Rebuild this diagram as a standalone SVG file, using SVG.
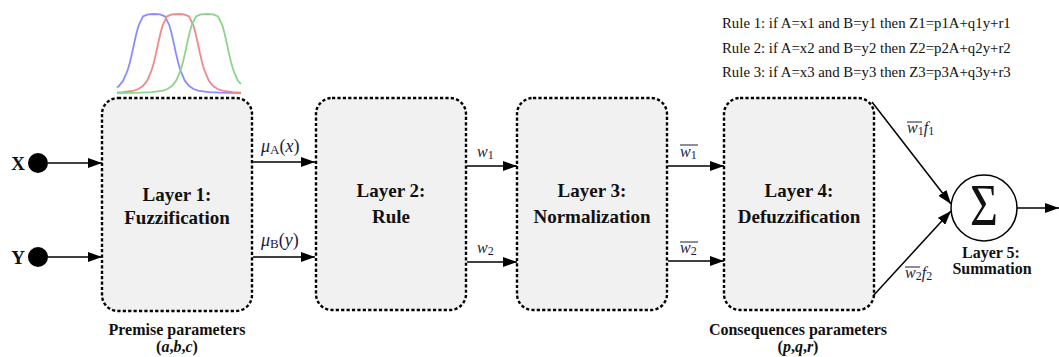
<svg xmlns="http://www.w3.org/2000/svg" width="1059" height="357" viewBox="0 0 1059 357">
  <style>
    .layer { fill: #f1f1f1; stroke: #000; stroke-width: 2.4; stroke-dasharray: 3.2 2.2; }
    .serif { font-family: Liberation Serif, Times New Roman, serif; }
    .title { font-weight: bold; font-size: 19px; text-anchor: middle; fill: #111; }
    .param { font-weight: bold; font-size: 16px; text-anchor: middle; fill: #111; }
    .rule { font-size: 14.8px; fill: #111; }
    .math { font-size: 16px; fill: #1a1a40; }
    .mu { font-size: 18px; fill: #1a1a40; }
    .it { font-style: italic; }
    .edge { stroke: #000; stroke-width: 1.5; fill: none; }
    .bar { stroke: #1a1a40; stroke-width: 1; }
    .mf { fill: none; stroke-width: 1.8; stroke-linejoin: round; }
  </style>
  <defs>
    <marker id="arrow" viewBox="0 0 14 10" refX="14" refY="5" markerWidth="14" markerHeight="10" markerUnits="userSpaceOnUse" orient="auto">
      <path d="M0,0 L14,5 L0,10 Z" fill="#000"/>
    </marker>
  </defs>

  <rect width="1059" height="357" fill="#fff"/>

  <!-- generalized bell membership functions -->
  <g id="membership">
    <polyline class="mf" stroke="#8c8cff" points="117,87.5 118.8,86.1 123.2,80.6 127.6,70.3 129.8,62.7 132,53.5 134.2,43.3 136.4,33.5 138.6,25.4 143,16.4 148,14.3 154,14 160,14.3 165,16.4 169.4,25.4 171.6,33.5 173.8,43.3 176,53.5 178.2,62.7 180.4,70.3 184.8,80.6 189.2,86.1 193.6,89 198,90.6 209,92.2 220,92.7 241,93"/>
    <polyline class="mf" stroke="#f08a8a" points="117,92.5 123,92.2 134,90.6 138.4,89 142.8,86.1 147.2,80.6 151.6,70.3 153.8,62.7 156,53.5 158.2,43.3 160.4,33.5 162.6,25.4 167,16.4 172,14.3 178,14 184,14.3 189,16.4 193.4,25.4 195.6,33.5 197.8,43.3 200,53.5 202.2,62.7 204.4,70.3 208.8,80.6 213.2,86.1 217.6,89 222,90.6 233,92.2 241,92.6"/>
    <polyline class="mf" stroke="#8ed48e" points="117,93 141,92.7 152,92.2 163,90.6 167.4,89 171.8,86.1 176.2,80.6 180.6,70.3 182.8,62.7 185,53.5 187.2,43.3 189.4,33.5 191.6,25.4 196,16.4 201,14.3 207,14 213,14.3 218,16.4 222.4,25.4 224.6,33.5 226.8,43.3 229,53.5 231.2,62.7 233.4,70.3 237.8,80.6 241,84"/>
  </g>

  <!-- fuzzy rule base -->
  <g id="rules" class="serif">
    <text class="rule" x="722" y="28">Rule 1: if A=x1 and B=y1 then Z1=p1A+q1y+r1</text>
    <text class="rule" x="722" y="53">Rule 2: if A=x2 and B=y2 then Z2=p2A+q2y+r2</text>
    <text class="rule" x="722" y="77">Rule 3: if A=x3 and B=y3 then Z3=p3A+q3y+r3</text>
  </g>

  <!-- inputs -->
  <g id="input-x" class="serif">
    <text class="title" x="18" y="170">X</text>
    <circle cx="38" cy="163" r="10" fill="#000"/>
  </g>
  <g id="input-y" class="serif">
    <text class="title" x="18" y="264">Y</text>
    <circle cx="38" cy="257" r="10" fill="#000"/>
  </g>

  <!-- layers -->
  <g id="layer1" class="serif">
    <rect class="layer" x="102" y="98" width="150" height="213" rx="16"/>
    <text class="title" x="177" y="201">Layer 1:</text>
    <text class="title" x="177" y="224">Fuzzification</text>
  </g>
  <g id="layer2" class="serif">
    <rect class="layer" x="316" y="98" width="150" height="212" rx="16"/>
    <text class="title" x="391" y="197">Layer 2:</text>
    <text class="title" x="391" y="223">Rule</text>
  </g>
  <g id="layer3" class="serif">
    <rect class="layer" x="517" y="98" width="150" height="212" rx="16"/>
    <text class="title" x="592" y="197">Layer 3:</text>
    <text class="title" x="592" y="223">Normalization</text>
  </g>
  <g id="layer4" class="serif">
    <rect class="layer" x="724" y="98" width="150" height="212" rx="16"/>
    <text class="title" x="799" y="197">Layer 4:</text>
    <text class="title" x="799" y="223">Defuzzification</text>
  </g>
  <g id="layer5" class="serif">
    <circle cx="984" cy="208" r="33" fill="#fff" stroke="#000" stroke-width="1.5"/>
    <text transform="translate(984,225) scale(0.8,1)" font-size="60" text-anchor="middle" fill="#111">Σ</text>
    <text class="param" x="991" y="258">Layer 5:</text>
    <text class="param" x="992" y="274">Summation</text>
  </g>

  <!-- parameter captions -->
  <g id="captions" class="serif">
    <text class="param" x="177" y="335">Premise parameters</text>
    <text class="param" x="177" y="352">(<tspan class="it">a</tspan>,<tspan class="it">b</tspan>,<tspan class="it">c</tspan>)</text>
    <text class="param" x="798" y="335">Consequences parameters</text>
    <text class="param" x="798" y="352">(<tspan class="it">p</tspan>,<tspan class="it">q</tspan>,<tspan class="it">r</tspan>)</text>
  </g>

  <!-- connectors -->
  <g id="connectors" class="serif">
    <line class="edge" x1="48" y1="163" x2="102" y2="163" marker-end="url(#arrow)"/>
    <line class="edge" x1="48" y1="257" x2="102" y2="257" marker-end="url(#arrow)"/>
    <line class="edge" x1="253" y1="162" x2="315" y2="162" marker-end="url(#arrow)"/>
    <line class="edge" x1="253" y1="257" x2="315" y2="257" marker-end="url(#arrow)"/>
    <line class="edge" x1="467" y1="166" x2="517" y2="166" marker-end="url(#arrow)"/>
    <line class="edge" x1="467" y1="262" x2="517" y2="262" marker-end="url(#arrow)"/>
    <line class="edge" x1="668" y1="166" x2="724" y2="166" marker-end="url(#arrow)"/>
    <line class="edge" x1="668" y1="261" x2="724" y2="261" marker-end="url(#arrow)"/>
    <line class="edge" x1="872" y1="102" x2="951" y2="204" marker-end="url(#arrow)"/>
    <line class="edge" x1="873" y1="296" x2="951" y2="211" marker-end="url(#arrow)"/>
    <line class="edge" x1="1017" y1="208" x2="1059" y2="208" marker-end="url(#arrow)"/>

    <!-- connector labels -->
    <text class="mu" x="261" y="152"><tspan class="it">μ</tspan><tspan font-size="13" dy="2">A</tspan><tspan dy="-2">(</tspan><tspan class="it">x</tspan>)</text>
    <text class="mu" x="261" y="246"><tspan class="it">μ</tspan><tspan font-size="13" dy="2">B</tspan><tspan dy="-2">(</tspan><tspan class="it">y</tspan>)</text>
    <text class="math" x="477" y="157"><tspan class="it">w</tspan><tspan font-size="12" dy="2">1</tspan></text>
    <text class="math" x="477" y="253"><tspan class="it">w</tspan><tspan font-size="12" dy="2">2</tspan></text>
    <text class="math" x="680" y="157"><tspan class="it">w</tspan><tspan font-size="12" dy="2">1</tspan></text>
    <line class="bar" x1="680" y1="145" x2="698" y2="145"/>
    <text class="math" x="680" y="253"><tspan class="it">w</tspan><tspan font-size="12" dy="2">2</tspan></text>
    <line class="bar" x1="680" y1="242" x2="698" y2="242"/>
    <text class="math" x="907" y="133"><tspan class="it">w</tspan><tspan font-size="12" dy="2">1</tspan><tspan class="it" dy="-2">f</tspan><tspan font-size="12" dy="2">1</tspan></text>
    <line class="bar" x1="907" y1="122" x2="922" y2="122"/>
    <text class="math" x="905" y="278"><tspan class="it">w</tspan><tspan font-size="12" dy="2">2</tspan><tspan class="it" dy="-2">f</tspan><tspan font-size="12" dy="2">2</tspan></text>
    <line class="bar" x1="905" y1="267" x2="920" y2="267"/>
  </g>
</svg>
